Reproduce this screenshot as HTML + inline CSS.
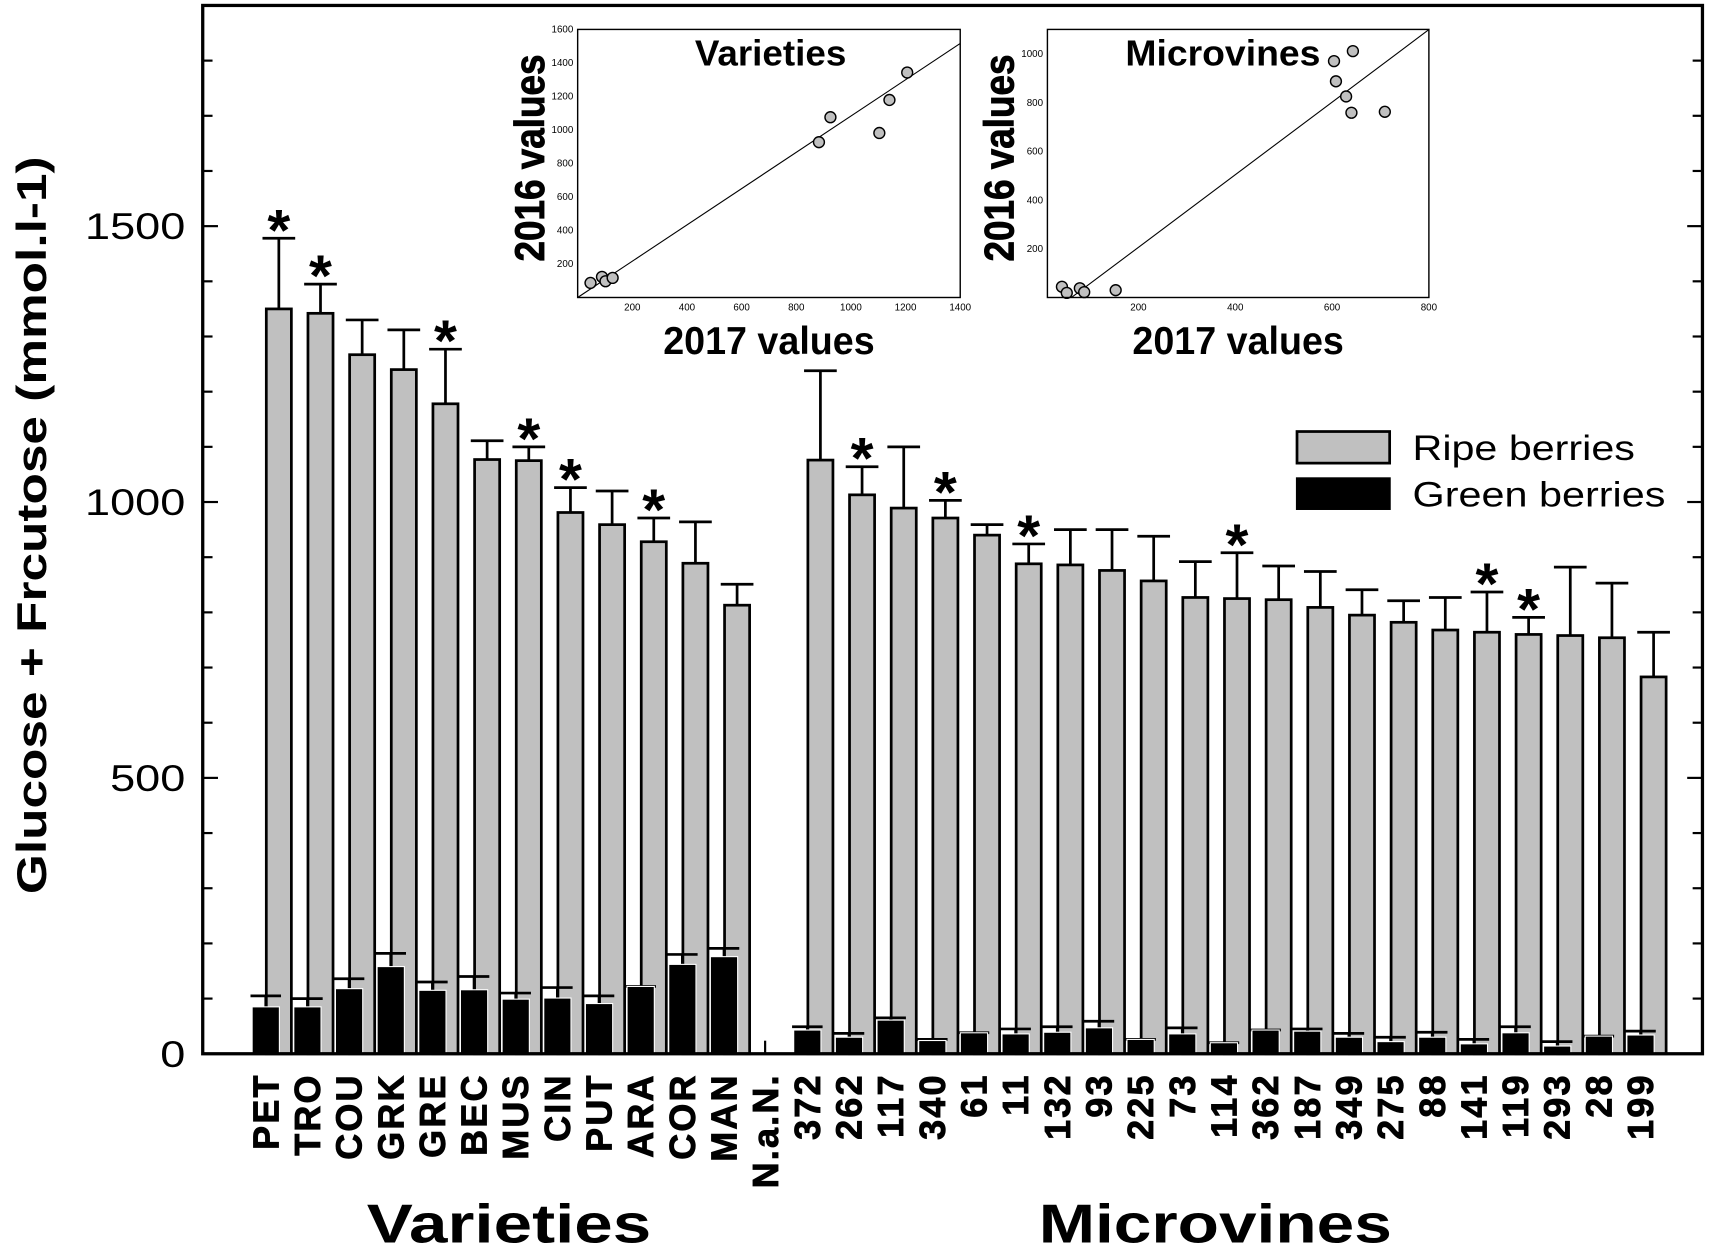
<!DOCTYPE html>
<html><head><meta charset="utf-8"><style>
html,body{margin:0;padding:0;background:#fff}
svg{display:block}
text{font-family:"Liberation Sans",Arial,sans-serif}
</style></head><body>
<svg id="chart" width="1709" height="1251" viewBox="0 0 1568 1148" preserveAspectRatio="none" xmlns="http://www.w3.org/2000/svg">
<g id="main"></g>
<g id="inset1"></g>
<g id="inset2"></g>
</svg>
<script>
const categories=["PET","TRO","COU","GRK","GRE","BEC","MUS","CIN","PUT","ARA","COR","MAN","N.a.N.","372","262","117","340","61","11","132","93","225","73","114","362","187","349","275","88","141","119","293","28","199"];
const ripe=[1350,1342,1267,1240,1178,1077,1075,981,959,928,889,813,null,1076,1013,989,971,940,888,886,876,857,827,825,823,809,795,782,768,764,760,758,754,683];
const ripeErr=[128,53,63,72,99,34,25,45,61,43,75,38,null,162,51,111,32,19,36,64,74,81,65,83,61,65,46,39,59,73,31,124,99,81];
const green=[85,85,118,158,115,116,99,101,91,122,162,176,null,43,30,61,24,38,36,39,47,26,36,20,43,41,30,22,30,18,38,14,32,34];
const greenErr=[20,15,18,24,15,24,11,19,14,0,18,15,null,6,7,4,2,0,9,10,12,0,11,0,0,4,7,8,9,8,11,8,0,7];
const signif=[1,1,0,0,1,0,1,1,0,1,0,0,0,0,1,0,1,0,1,0,0,0,0,1,0,0,0,0,0,1,1,0,0,0];
const yTicks=[0,500,1000,1500];
const varX=[47,89,102,128,883,925,1104,1141,1206];
const varY=[87,123,97,117,927,1076,982,1179,1343];
const microX=[42,52,79,88,153,604,608,629,643,640,709];
const microY=[44,19,38,22,30,970,887,825,1011,758,762];
const ns="http://www.w3.org/2000/svg";
function mk(p,tag,attrs,txt){const e=document.createElementNS(ns,tag);for(const k in attrs)e.setAttribute(k,attrs[k]);if(txt!==undefined)e.textContent=txt;p.appendChild(e);return e;}
const L=186,R=1562,T=5,B=967,YMAX=1900;
const slot=(R-L)/36;
const xs=i=>L+slot*(i+1.5);
const ys=v=>B-(v/YMAX)*(B-T);
const g=document.getElementById('main');
for(let v=100;v<YMAX;v+=100){const maj=v%500===0;const len=maj?14:9;
 let t=mk(g,'line',{x1:L,x2:L+len,y1:ys(v),y2:ys(v),stroke:'#000','stroke-width':2});
 
 t=mk(g,'line',{x1:R,x2:R-len,y1:ys(v),y2:ys(v),stroke:'#000','stroke-width':2});
 }
yTicks.forEach(v=>{const s=String(v);const t=mk(g,'text',{x:170,y:ys(v)+12,'text-anchor':'end','font-size':34,textLength:s.length*23,lengthAdjust:'spacingAndGlyphs'},s);
 });
categories.forEach((c,i)=>{const s=xs(i);
 if(ripe[i]!==null){
  const top=ys(ripe[i]+ripeErr[i]);const cx=s+12.5;
  let e=mk(g,'line',{x1:cx,x2:cx,y1:ys(ripe[i]),y2:top,stroke:'#000','stroke-width':2.5});
  
  e=mk(g,'line',{x1:cx-15,x2:cx+15,y1:top,y2:top,stroke:'#000','stroke-width':2.5});
  
  const r=mk(g,'rect',{x:s+1,y:ys(ripe[i]),width:23,height:B-ys(ripe[i]),fill:'#c0c0c0',stroke:'#000','stroke-width':2.5});
  
  const gt=ys(green[i]+greenErr[i]);const gx=s+0.5;
  e=mk(g,'line',{x1:gx-14,x2:gx+14,y1:gt,y2:gt,stroke:'#000','stroke-width':2.5});
  
  e=mk(g,'line',{x1:gx,x2:gx,y1:gt,y2:ys(green[i]),stroke:'#000','stroke-width':2.5});
  
  const b=mk(g,'rect',{x:s-12,y:ys(green[i]),width:25,height:B-ys(green[i]),fill:'#000',stroke:'#fff','stroke-width':1});
  
  if(signif[i]){const st=mk(g,'text',{x:cx,y:top+11,'text-anchor':'middle','font-size':54,'font-weight':'bold'},'*');
   }
 } else {
  const e=mk(g,'line',{x1:s,x2:s,y1:B-12,y2:B,stroke:'#000','stroke-width':2});
  
 }
 const lb=mk(g,'text',{x:0,y:0,transform:`translate(${s+12},985) rotate(-90)`,'text-anchor':'end','font-size':33,'font-weight':'bold','letter-spacing':2,'stroke':'#000','stroke-width':0.8},c);
 
});
const fr=mk(g,'rect',{x:L,y:T,width:R-L,height:B-T,fill:'none',stroke:'#000','stroke-width':3});

let t=mk(g,'text',{x:0,y:0,transform:'translate(42,482) rotate(-90)','text-anchor':'middle','font-size':38,'font-weight':'bold',textLength:677,lengthAdjust:'spacingAndGlyphs'},'Glucose + Frcutose (mmol.l-1)');

t=mk(g,'text',{x:467,y:1140,'text-anchor':'middle','font-size':50,'font-weight':'bold',textLength:261,lengthAdjust:'spacingAndGlyphs'},'Varieties');

t=mk(g,'text',{x:1115,y:1140,'text-anchor':'middle','font-size':50,'font-weight':'bold',textLength:324,lengthAdjust:'spacingAndGlyphs'},'Microvines');

let lr=mk(g,'rect',{x:1190,y:396,width:85,height:29,fill:'#c0c0c0',stroke:'#000','stroke-width':2.5});

lr=mk(g,'rect',{x:1189,y:438,width:87,height:30,fill:'#000'});

t=mk(g,'text',{x:1296,y:422,'font-size':32,textLength:204,lengthAdjust:'spacingAndGlyphs'},'Ripe berries');

t=mk(g,'text',{x:1296,y:465,'font-size':32,textLength:232,lengthAdjust:'spacingAndGlyphs'},'Green berries');

function inset(id,x0,x1,y0,y1,xmin,xmax,ymax,xt,yt,px,py,slope,icpt,title,tcx,tw){
 const p=document.getElementById(id);
 const sx=v=>x0+(v-xmin)/(xmax-xmin)*(x1-x0);
 const sy=v=>y1-v/ymax*(y1-y0);
 xt.forEach(v=>{const e=mk(p,'text',{x:sx(v),y:y1+12,'text-anchor':'middle','font-size':9},String(v));
  });
 yt.forEach(v=>{const e=mk(p,'text',{x:x0-4,y:sy(v)+3,'text-anchor':'end','font-size':9},String(v));
  });
 let xa=Math.max(xmin,(0-icpt)/slope), xb=Math.min(xmax,(ymax-icpt)/slope);
 let ln=mk(p,'line',{x1:sx(xa),y1:sy(slope*xa+icpt),x2:sx(xb),y2:sy(slope*xb+icpt),stroke:'#000','stroke-width':1});
 
 px.forEach((v,i)=>{const c=mk(p,'circle',{cx:sx(v),cy:sy(py[i]),r:5,fill:'#c0c0c0',stroke:'#000','stroke-width':1.3});
  });
 const f=mk(p,'rect',{x:x0,y:y0,width:x1-x0,height:y1-y0,fill:'none',stroke:'#000','stroke-width':1.3});
 
 let e=mk(p,'text',{x:tcx,y:60,'text-anchor':'middle','font-size':33,'font-weight':'bold',textLength:tw,lengthAdjust:'spacingAndGlyphs'},title);
 
 e=mk(p,'text',{x:(x0+x1)/2,y:325,'text-anchor':'middle','font-size':36,'font-weight':'bold',textLength:194,lengthAdjust:'spacingAndGlyphs'},'2017 values');
 
 e=mk(p,'text',{x:0,y:0,transform:`translate(${x0-31},145) rotate(-90)`,'text-anchor':'middle','font-size':38,'font-weight':'bold',textLength:190,lengthAdjust:'spacingAndGlyphs','stroke':'#000','stroke-width':0.8},'2016 values');
 
}
inset('inset1',530,881,27,273,0,1400,1600,[200,400,600,800,1000,1200,1400],[200,400,600,800,1000,1200,1400,1600],varX,varY,1.083,0,'Varieties',707,139);
inset('inset2',961,1311,27,273,12,800,1100,[200,400,600,800],[200,400,600,800,1000],microX,microY,1.489,-92,'Microvines',1122,179);
</script>
</body></html>
